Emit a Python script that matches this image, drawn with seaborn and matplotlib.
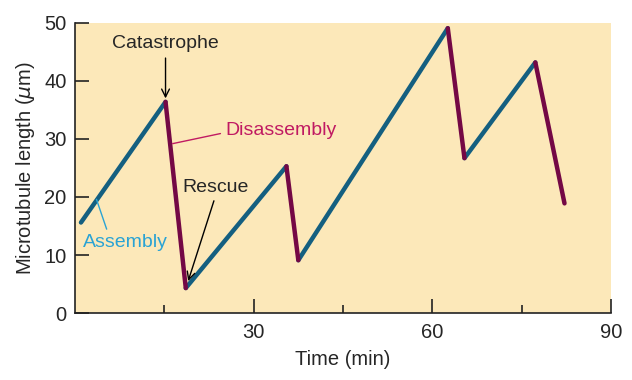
import numpy as np
import pandas as pd
import matplotlib
matplotlib.use("Agg")
import matplotlib.pyplot as plt
import seaborn as sns

# turning points of the microtubule length trace
time_min = [1.0, 15.2, 18.6, 35.5, 37.5, 62.6, 65.4, 77.3, 82.2]
length_um = [15.6, 36.4, 4.3, 25.3, 9.1, 49.1, 26.7, 43.2, 18.9]
phases = ["Assembly", "Disassembly", "Assembly", "Disassembly",
          "Assembly", "Disassembly", "Assembly", "Disassembly"]

x_ticks_major = [30, 60, 90]
x_ticks_minor = [15, 45, 75]
y_ticks = [0, 10, 20, 30, 40, 50]

teal = "#145f80"
plum = "#740845"
bg = "#fce8b9"

# one two-point segment per phase
rows = []
for i, ph in enumerate(phases):
    rows.append({"seg": i, "phase": ph, "t": time_min[i], "L": length_um[i]})
    rows.append({"seg": i, "phase": ph, "t": time_min[i + 1], "L": length_um[i + 1]})
df = pd.DataFrame(rows)

sns.set_style("ticks")
plt.rcParams["font.family"] = ["Liberation Sans", "DejaVu Sans"]
plt.rcParams["mathtext.fontset"] = "dejavusans"

fig = plt.figure(figsize=(6.32, 3.80), dpi=100)
ax = fig.add_axes([0.1187, 0.1763, 0.848, 0.7632])
ax.set_facecolor(bg)

sns.lineplot(data=df, x="t", y="L", hue="phase", units="seg", estimator=None,
             palette={"Assembly": teal, "Disassembly": plum},
             linewidth=3.2, legend=False, ax=ax, sort=False)
for ln in ax.lines:
    ln.set_solid_capstyle("round")
    ln.set_solid_joinstyle("round")

ax.set_xlim(0, 90)
ax.set_ylim(0, 50)
ax.set_xticks(x_ticks_major)
ax.set_xticks(x_ticks_minor, minor=True)
ax.set_yticks(y_ticks)
ax.tick_params(axis="both", which="major", direction="in", length=10, width=1.2,
               labelsize=14.5, color="#222222", pad=6)
ax.tick_params(axis="x", which="minor", direction="in", length=6, width=1.2, color="#222222")
ax.tick_params(axis="x", which="major", pad=7)

for side in ["top", "right"]:
    ax.spines[side].set_visible(False)
for side in ["left", "bottom"]:
    ax.spines[side].set_linewidth(1.2)
    ax.spines[side].set_color("#222222")

ax.set_xlabel("Time (min)", fontsize=14.5, labelpad=6)
ax.set_ylabel(r"Microtubule length ($\mu$m)", fontsize=14.5, labelpad=5)

# annotations
ax.annotate("Catastrophe", xy=(time_min[1], length_um[1] + 0.6), xytext=(time_min[1], 45.0),
            ha="center", va="bottom", fontsize=14,
            arrowprops=dict(arrowstyle="->", color="black", lw=1.0, shrinkA=2, shrinkB=0))
ax.annotate("Disassembly", xy=(16.4, 29.2), xytext=(25.2, 31.4),
            ha="left", va="center", fontsize=14, color="#c01a62",
            arrowprops=dict(arrowstyle="-", color="#c01a62", lw=1.0, shrinkA=1, shrinkB=0,
                            relpos=(0.0, 0.4)))
ax.annotate("Rescue", xy=(19.0, 5.5), xytext=(18.0, 21.6),
            ha="left", va="center", fontsize=14,
            arrowprops=dict(arrowstyle="->", color="black", lw=1.0, shrinkA=1, shrinkB=0,
                            relpos=(0.5, 0.0)))
ax.annotate("Assembly", xy=(3.6, 19.6), xytext=(1.3, 12.2),
            ha="left", va="center", fontsize=14, color="#2aa3d4",
            arrowprops=dict(arrowstyle="-", color="#2aa3d4", lw=1.0, shrinkA=1, shrinkB=0,
                            relpos=(0.3, 1.0)))

fig.savefig("out.png", dpi=100)
